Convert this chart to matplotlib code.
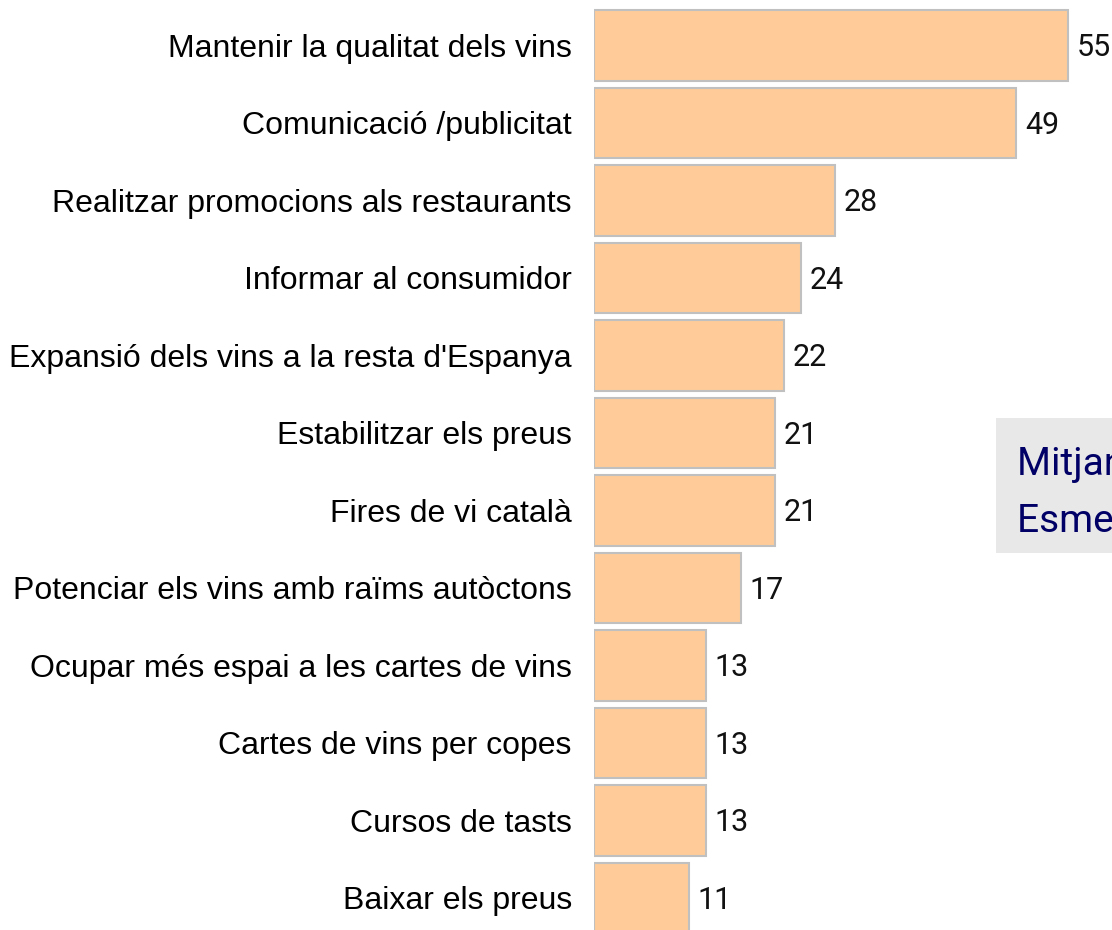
import matplotlib.pyplot as plt
from matplotlib.patches import Rectangle

# Dades
categories = [
    "Mantenir la qualitat dels vins",
    "Comunicació /publicitat",
    "Realitzar promocions als restaurants",
    "Informar al consumidor",
    "Expansió dels vins a la resta d'Espanya",
    "Estabilitzar els preus",
    "Fires de vi català",
    "Potenciar els vins amb raïms autòctons",
    "Ocupar més espai a les cartes de vins",
    "Cartes de vins per copes",
    "Cursos de tasts",
    "Baixar els preus",
]
values = [55, 49, 28, 24, 22, 21, 21, 17, 13, 13, 13, 11]
box_lines = ["Mitjana d'esments", "Esments per persona"]

W, H = 1112, 930
fig = plt.figure(figsize=(W / 100, H / 100), dpi=100)

# eixos: x=0 a 594 px, 8.62 px per unitat
x0 = 594
ax = fig.add_axes([x0 / W, 0, (W - x0) / W, 1])
ax.set_xlim(0, (W - x0) / 8.62)
ax.set_ylim(11.413, -0.587)

pos = list(range(len(values)))
ax.barh(pos, values, height=0.915, color='#FFCC99', edgecolor='#C0C0C0', linewidth=1.5)

for p, v in zip(pos, values):
    ax.text(v + 1.0, p + 0.03, str(v), va='center', ha='left', fontsize=22,
            family='Roboto', color='#111111', clip_on=False)

ax.set_yticks(pos)
ax.set_yticklabels(categories, fontsize=23, family='Liberation Sans')
ax.tick_params(axis='y', length=0, pad=16)
ax.set_xticks([])
for s in ax.spines.values():
    s.set_visible(False)

# requadre a la dreta (retallat a la vora)
fig.patches.append(Rectangle((996 / W, 1 - 553 / H), 200 / W, 135 / H,
                             transform=fig.transFigure, facecolor='#E8E8E8',
                             edgecolor='none', zorder=0))
fig.text(1017 / W, 1 - 475 / H, box_lines[0], fontsize=28, color='#000066',
         family='Roboto', va='baseline')
fig.text(1017 / W, 1 - 532 / H, box_lines[1], fontsize=28, color='#000066',
         family='Roboto', va='baseline')

fig.savefig('out.png', dpi=100)
